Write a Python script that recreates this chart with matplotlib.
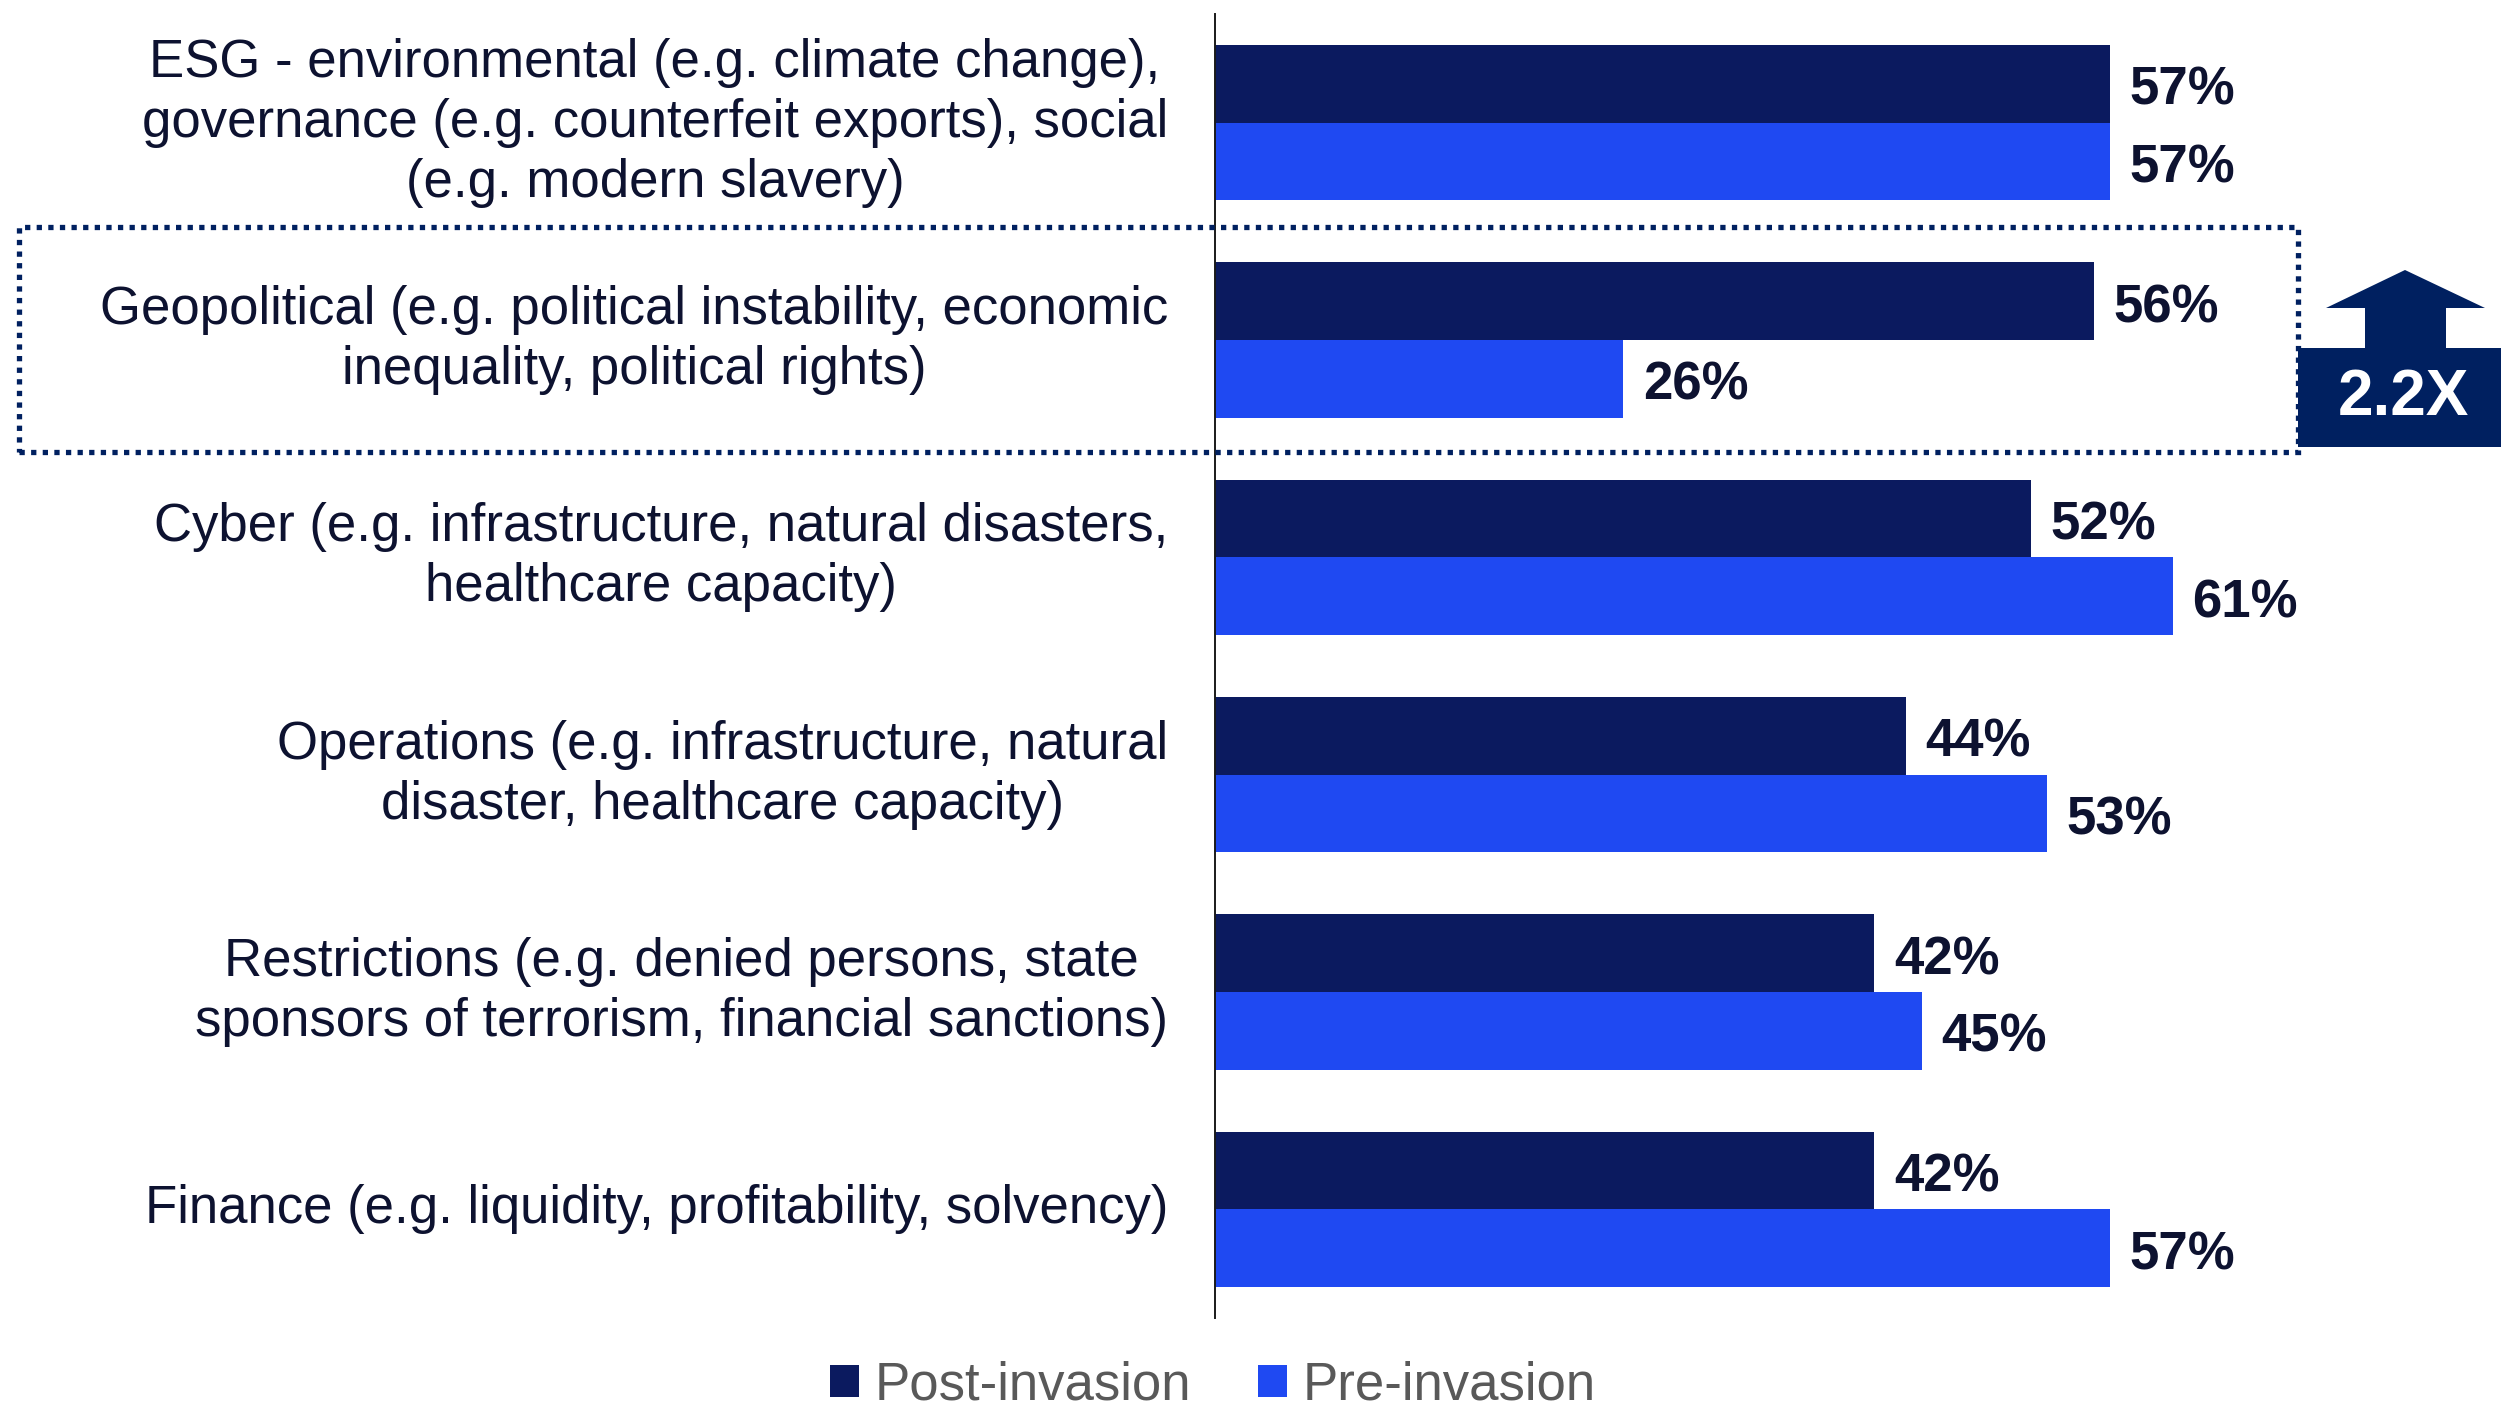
import matplotlib
matplotlib.use("Agg")
import matplotlib.pyplot as plt
import numpy as np
from matplotlib.patches import Rectangle, Polygon, Patch

# Survey data: share of respondents ranking each risk category
categories = [
    "ESG - environmental (e.g. climate change),\ngovernance (e.g. counterfeit exports), social\n(e.g. modern slavery)",
    "Geopolitical (e.g. political instability, economic\ninequality, political rights)",
    "Cyber (e.g. infrastructure, natural disasters,\nhealthcare capacity)",
    "Operations (e.g. infrastructure, natural\ndisaster, healthcare capacity)",
    "Restrictions (e.g. denied persons, state\nsponsors of terrorism, financial sanctions)",
    "Finance (e.g. liquidity, profitability, solvency)",
]
post_invasion = [57, 56, 52, 44, 42, 42]
pre_invasion = [57, 26, 61, 53, 45, 57]
series_names = ["Post-invasion", "Pre-invasion"]
callout_text = "2.2X"

POST_COLOR = "#0B1A5F"
PRE_COLOR = "#1F49F2"
TEXT_COLOR = "#0D1230"
ACCENT = "#002060"
LEGEND_GRAY = "#595959"

plt.rcParams["font.family"] = ["Liberation Sans", "DejaVu Sans"]
NARROW = ["Liberation Sans Narrow", "Liberation Sans", "DejaVu Sans"]

W, H = 2501, 1408
fig = plt.figure(figsize=(W / 100, H / 100), dpi=100)


def fx(px):
    return px / W


def fy(py):
    return 1 - py / H


# Plot area: left axis line at x=1215 px, spanning y=14..1318 px
ax_left, ax_top, ax_bottom = 1215, 14, 1318
x_max = 70
ax_width = x_max * 15.7
ax = fig.add_axes([fx(ax_left), fy(ax_bottom), ax_width / W, (ax_bottom - ax_top) / H])

y = np.arange(len(categories))
h = 0.357
ax.barh(y - h / 2, post_invasion, height=h, color=POST_COLOR, label=series_names[0])
ax.barh(y + h / 2, pre_invasion, height=h, color=PRE_COLOR, label=series_names[1])

ax.set_xlim(0, x_max)
ax.set_ylim(len(categories) - 0.5, -0.5)
for s in ["top", "right", "bottom"]:
    ax.spines[s].set_visible(False)
ax.spines["left"].set_color("#1a1a1a")
ax.spines["left"].set_linewidth(1.4)
ax.set_xticks([])
ax.set_yticks([])

# Value labels at bar ends
for vals, off in ((post_invasion, -h / 2), (pre_invasion, h / 2)):
    for yi, v in zip(y, vals):
        ax.annotate(f"{v}%", xy=(v, yi + off), xytext=(14, -5), textcoords="offset points",
                    ha="left", va="center", fontsize=38, fontweight="bold",
                    family=NARROW, color=TEXT_COLOR)

# Category labels, right aligned next to the axis
for yi, cat in zip(y, categories):
    ax.annotate(cat, xy=(0, yi), xytext=(-47, 0), textcoords="offset pixels",
                ha="right", va="center", multialignment="center",
                fontsize=38, color=TEXT_COLOR, linespacing=1.26)

# Dotted highlight around the geopolitical row
box = Rectangle((fx(19), fy(452)), fx(2298) - fx(19), fy(227) - fy(452),
                transform=fig.transFigure, fill=False, edgecolor=ACCENT,
                linewidth=3.8, linestyle=(0, (1, 1.2)))
box.set_capstyle("butt")
fig.add_artist(box)

# Callout: up arrow and multiplier badge
badge = Rectangle((fx(2298), fy(447)), fx(2501) - fx(2298), fy(348) - fy(447),
                  transform=fig.transFigure, facecolor=ACCENT, edgecolor="none")
fig.add_artist(badge)
arrow_px = [(2365, 348), (2365, 308), (2326, 308), (2405, 270),
            (2485, 308), (2446, 308), (2446, 348)]
arrow = Polygon([(fx(px), fy(py)) for px, py in arrow_px], closed=True,
                transform=fig.transFigure, facecolor=ACCENT, edgecolor="none")
fig.add_artist(arrow)
fig.text(fx(2403), fy(398), callout_text, ha="center", va="center",
         fontsize=46, fontweight="bold", color="white")

# Legend
handles = [Patch(facecolor=POST_COLOR), Patch(facecolor=PRE_COLOR)]
leg = fig.legend(handles, series_names, loc="center", bbox_to_anchor=(fx(1213), fy(1386)),
                 ncol=2, frameon=False, handlelength=0.55, handleheight=0.55,
                 handletextpad=0.3, columnspacing=1.27,
                 prop={"family": NARROW, "size": 38})
for t in leg.get_texts():
    t.set_color(LEGEND_GRAY)

fig.savefig("out.png", dpi=100, facecolor="white")
